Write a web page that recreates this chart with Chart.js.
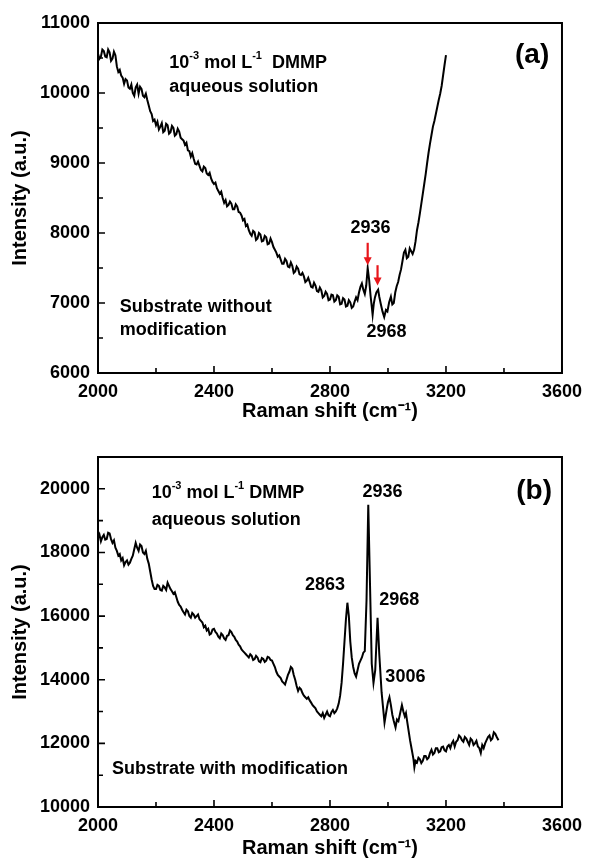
<!DOCTYPE html>
<html>
<head>
  <meta charset="utf-8">
  <title>Raman spectra of DMMP</title>
  <script src="https://cdn.jsdelivr.net/npm/chart.js"></script>
  <style>
    body { margin: 0; background: #fff; }
    .panel { position: absolute; left: 0; width: 590px; height: 430px; }
    #wrapA { top: 0; }
    #wrapB { top: 430px; }
  </style>
</head>
<body>
  <div class="panel" id="wrapA"><canvas id="chartA" width="590" height="430"></canvas></div>
  <div class="panel" id="wrapB"><canvas id="chartB" width="590" height="430"></canvas></div>

  <script>
    // axis ticks
    const xTicks = [2000, 2400, 2800, 3200, 3600];
    const yTicksA = [6000, 7000, 8000, 9000, 10000, 11000];
    const yTicksB = [10000, 12000, 14000, 16000, 18000, 20000];

    // (a) substrate without modification: [Raman shift, intensity]
    const specA = [
      [2000,10560],[2005,10490],[2010,10520],[2015,10620],[2020,10600],[2025,10520],[2030,10510],[2035,10620],
      [2040,10580],[2045,10460],[2050,10490],[2055,10590],[2060,10540],[2065,10380],[2070,10300],[2075,10330],
      [2080,10250],[2085,10220],[2090,10130],[2095,10200],[2100,10180],[2105,10080],[2110,10060],[2115,10120],
      [2120,10000],[2125,9960],[2130,10080],[2135,10120],[2140,9990],[2145,10090],[2150,10060],[2155,9960],
      [2160,9940],[2165,9990],[2170,9900],[2175,9820],[2180,9740],[2185,9700],[2190,9600],[2195,9620],
      [2200,9540],[2205,9590],[2210,9480],[2215,9520],[2220,9570],[2225,9440],[2230,9460],[2235,9560],
      [2240,9540],[2245,9420],[2250,9440],[2255,9530],[2260,9500],[2265,9390],[2270,9410],[2275,9490],
      [2280,9450],[2285,9360],[2290,9340],[2295,9320],[2300,9260],[2305,9290],[2310,9180],[2315,9170],
      [2320,9090],[2325,9140],[2330,9060],[2335,8990],[2340,8980],[2345,9020],[2350,8960],[2355,8900],
      [2360,8880],[2365,8950],[2370,8930],[2375,8850],[2380,8830],[2385,8860],[2390,8780],[2395,8730],
      [2400,8700],[2405,8720],[2410,8640],[2415,8600],[2420,8560],[2425,8590],[2430,8500],[2435,8430],
      [2440,8470],[2445,8380],[2450,8400],[2455,8450],[2460,8420],[2465,8340],[2470,8340],[2475,8410],
      [2480,8380],[2485,8300],[2490,8290],[2495,8250],[2500,8180],[2505,8200],[2510,8100],[2515,8120],
      [2520,8040],[2525,7990],[2530,7960],[2535,8030],[2540,8010],[2545,7900],[2550,7920],[2555,8000],
      [2560,7980],[2565,7880],[2570,7890],[2575,7960],[2580,7940],[2585,7840],[2590,7850],[2595,7920],
      [2600,7870],[2605,7800],[2610,7760],[2615,7720],[2620,7660],[2625,7680],[2630,7620],[2635,7560],
      [2640,7560],[2645,7630],[2650,7600],[2655,7520],[2660,7510],[2665,7580],[2670,7530],[2675,7430],
      [2680,7450],[2685,7520],[2690,7490],[2695,7410],[2700,7400],[2705,7430],[2710,7380],[2715,7300],
      [2720,7320],[2725,7360],[2730,7300],[2735,7230],[2740,7220],[2745,7290],[2750,7250],[2755,7170],
      [2760,7160],[2765,7220],[2770,7180],[2775,7080],[2780,7100],[2785,7160],[2790,7130],[2795,7040],
      [2800,7050],[2805,7120],[2810,7110],[2815,7020],[2820,7040],[2825,7110],[2830,7090],[2835,6980],
      [2840,6990],[2845,7070],[2850,7050],[2855,6950],[2860,6960],[2865,7040],[2870,7010],[2875,6930],
      [2880,6950],[2885,7020],[2890,7080],[2895,7040],[2900,7150],[2905,7230],[2910,7280],[2915,7190],
      [2920,7130],[2925,7250],[2930,7500],[2935,7330],[2940,7100],[2944,6950],[2947,6830],[2951,6990],
      [2955,7080],[2960,7150],[2966,7190],[2970,7090],[2975,6990],[2981,6880],[2987,6800],[2993,6900],
      [2998,6880],[3004,7010],[3010,7090],[3015,6980],[3020,7000],[3025,7150],[3030,7240],[3035,7300],
      [3040,7400],[3045,7480],[3050,7600],[3055,7720],[3060,7760],[3065,7640],[3070,7660],[3075,7780],
      [3080,7740],[3085,7700],[3090,7760],[3095,7880],[3100,8040],[3105,8150],[3110,8280],[3115,8420],
      [3120,8560],[3125,8700],[3130,8840],[3135,9000],[3140,9150],[3145,9280],[3150,9400],[3155,9520],
      [3160,9600],[3165,9700],[3170,9800],[3175,9900],[3180,9990],[3185,10100],[3190,10250],[3195,10400],
      [3200,10540]
    ];

    // (b) substrate with modification: [Raman shift, intensity]
    const specB = [
      [2000,18450],[2005,18560],[2010,18350],[2015,18480],[2020,18550],[2025,18400],[2030,18420],[2035,18620],
      [2040,18600],[2045,18420],[2050,18300],[2055,18380],[2060,18150],[2065,18050],[2070,17900],[2075,17950],
      [2080,17750],[2085,17820],[2090,17600],[2095,17700],[2100,17750],[2105,17620],[2110,17680],[2115,17800],
      [2120,17900],[2125,18100],[2130,18300],[2135,18150],[2140,18050],[2145,18250],[2150,18200],[2155,18000],
      [2160,17950],[2165,18050],[2170,17800],[2175,17650],[2180,17400],[2185,17150],[2190,16950],[2195,16850],
      [2200,16850],[2205,16980],[2210,16950],[2215,16820],[2220,16800],[2225,16950],[2230,16900],[2235,16820],
      [2240,17050],[2245,16950],[2250,16850],[2255,16780],[2260,16700],[2265,16750],[2270,16600],[2275,16450],
      [2280,16350],[2285,16300],[2290,16200],[2295,16120],[2300,16050],[2305,16200],[2310,16150],[2315,16000],
      [2320,15950],[2325,16100],[2330,16050],[2335,15950],[2340,16000],[2345,16050],[2350,15900],[2355,15850],
      [2360,15800],[2365,15650],[2370,15700],[2375,15550],[2380,15600],[2385,15420],[2390,15450],[2395,15580],
      [2400,15600],[2405,15500],[2410,15450],[2415,15350],[2420,15300],[2425,15450],[2430,15400],[2435,15300],
      [2440,15250],[2445,15380],[2450,15400],[2455,15550],[2460,15500],[2465,15400],[2470,15350],[2475,15250],
      [2480,15200],[2485,15100],[2490,15050],[2495,14950],[2500,14900],[2505,14850],[2510,14800],[2515,14750],
      [2520,14700],[2525,14800],[2530,14750],[2535,14620],[2540,14650],[2545,14750],[2550,14700],[2555,14580],
      [2560,14550],[2565,14680],[2570,14650],[2575,14560],[2580,14600],[2585,14720],[2590,14700],[2595,14620],
      [2600,14600],[2605,14500],[2610,14400],[2615,14250],[2620,14150],[2625,14100],[2630,14050],[2635,13950],
      [2640,13900],[2645,13850],[2650,14000],[2655,14150],[2660,14250],[2665,14400],[2670,14350],[2675,14150],
      [2680,14000],[2685,13800],[2690,13650],[2695,13750],[2700,13700],[2705,13580],[2710,13500],[2715,13450],
      [2720,13400],[2725,13450],[2730,13350],[2735,13280],[2740,13200],[2745,13150],[2750,13100],[2755,13000],
      [2760,12950],[2765,12900],[2770,12850],[2775,12950],[2780,12800],[2785,12900],[2790,13000],[2795,12880],
      [2800,12850],[2805,12980],[2810,13050],[2815,12950],[2820,13000],[2825,13100],[2830,13250],[2835,13500],
      [2840,13900],[2845,14500],[2850,15200],[2855,15900],[2860,16420],[2865,16000],[2870,15200],[2875,14700],
      [2880,14400],[2885,14200],[2890,14100],[2895,14300],[2900,14500],[2905,14600],[2910,14700],[2915,14850],
      [2920,14900],[2926,16500],[2932,19500],[2938,17000],[2944,14500],[2950,13900],[2956,14300],[2964,15950],
      [2970,14800],[2978,13600],[2988,12650],[2996,13100],[3000,13300],[3005,13450],[3010,13200],[3015,12900],
      [3020,12700],[3026,12500],[3031,12750],[3036,12700],[3042,12950],[3048,13200],[3053,13000],[3058,12850],
      [3062,12950],[3066,12700],[3071,12400],[3076,12100],[3080,11900],[3084,11700],[3088,11500],[3091,11250],
      [3095,11450],[3100,11400],[3105,11550],[3110,11500],[3115,11380],[3120,11450],[3125,11600],[3130,11600],
      [3135,11500],[3140,11550],[3145,11700],[3150,11800],[3155,11650],[3160,11700],[3165,11850],[3170,11850],
      [3175,11720],[3180,11750],[3185,11880],[3190,11900],[3195,11780],[3200,11750],[3205,11900],[3210,11950],
      [3215,11850],[3220,12000],[3225,12080],[3230,11900],[3235,12050],[3240,12100],[3245,12250],[3250,12200],
      [3255,12100],[3260,12050],[3265,12200],[3270,12150],[3275,12050],[3280,11950],[3285,12150],[3290,12100],
      [3295,11950],[3300,12000],[3305,12080],[3310,11900],[3315,11850],[3320,11700],[3325,11950],[3330,11850],
      [3335,12000],[3340,12100],[3345,12200],[3350,12250],[3355,12100],[3360,12150],[3365,12350],[3370,12300],
      [3375,12200],[3381,12100]
    ];

    const FONT = "'Liberation Sans', Arial, sans-serif";
    Chart.defaults.color = '#000';
    Chart.defaults.font.family = FONT;

    // draws a string made of normal and superscript parts, left aligned, vertically centred
    function drawRich(ctx, parts, x, y, size) {
      ctx.textBaseline = 'middle';
      ctx.textAlign = 'left';
      let cx = x;
      parts.forEach(p => {
        const s = p.sup ? Math.round(size * 0.62) : size;
        ctx.font = 'bold ' + s + 'px ' + FONT;
        ctx.fillText(p.t, cx, p.sup ? y - size * 0.38 : y);
        cx += ctx.measureText(p.t).width;
      });
    }

    function drawArrow(ctx, x, y0, y1) {
      ctx.strokeStyle = '#e8161b';
      ctx.fillStyle = '#e8161b';
      ctx.lineWidth = 2.2;
      ctx.beginPath();
      ctx.moveTo(x, y0);
      ctx.lineTo(x, y1 - 7);
      ctx.stroke();
      ctx.beginPath();
      ctx.moveTo(x - 4, y1 - 8);
      ctx.lineTo(x + 4, y1 - 8);
      ctx.lineTo(x, y1);
      ctx.closePath();
      ctx.fill();
    }

    // box, inward ticks and text notes
    const framePlugin = {
      id: 'frame',
      afterDraw(chart, args, opts) {
        const { ctx, chartArea: a, scales: { x, y } } = chart;
        ctx.save();
        ctx.strokeStyle = '#000';
        ctx.lineWidth = 2;
        ctx.strokeRect(a.left, a.top, a.right - a.left, a.bottom - a.top);
        ctx.lineWidth = 1.6;
        ctx.beginPath();
        opts.xMinor.forEach(v => {
          const px = x.getPixelForValue(v);
          const len = xTicks.includes(v) ? 7 : 5;
          ctx.moveTo(px, a.bottom);
          ctx.lineTo(px, a.bottom - len);
        });
        opts.yMinor.forEach(v => {
          const py = y.getPixelForValue(v);
          const len = opts.yMajor.includes(v) ? 7 : 5;
          ctx.moveTo(a.left, py);
          ctx.lineTo(a.left + len, py);
        });
        ctx.stroke();

        ctx.fillStyle = '#000';
        opts.notes.forEach(n => {
          const px = x.getPixelForValue(n.x);
          const py = y.getPixelForValue(n.y);
          if (n.center) {
            ctx.font = 'bold ' + n.size + 'px ' + FONT;
            ctx.textAlign = 'center';
            ctx.textBaseline = 'middle';
            ctx.fillText(n.parts[0].t, px, py);
          } else {
            drawRich(ctx, n.parts, px, py, n.size);
          }
        });
        (opts.arrows || []).forEach(ar => {
          drawArrow(ctx, x.getPixelForValue(ar.x), y.getPixelForValue(ar.from), y.getPixelForValue(ar.to));
        });
        ctx.restore();
      }
    };

    const concParts = [{ t: '10' }, { t: '-3', sup: true }, { t: ' mol L' }, { t: '-1', sup: true }];

    function makeChart(id, spec, yMin, yMax, yTicks, pad, titlePadBottom, plugOpts) {
      return new Chart(document.getElementById(id), {
        type: 'line',
        data: {
          datasets: [{
            data: spec.map(p => ({ x: p[0], y: p[1] })),
            borderColor: '#000',
            borderWidth: 2,
            pointRadius: 0,
            tension: 0
          }]
        },
        options: {
          responsive: false,
          animation: false,
          events: [],
          layout: { padding: pad },
          plugins: { legend: { display: false }, tooltip: { enabled: false }, frame: plugOpts },
          scales: {
            x: {
              type: 'linear',
              min: 2000,
              max: 3600,
              grid: { display: false, drawTicks: false },
              border: { display: false },
              afterBuildTicks: s => { s.ticks = xTicks.map(v => ({ value: v })); },
              afterFit: s => { s.height = pad.xh; },
              ticks: { padding: 8, maxRotation: 0, font: { size: 18, weight: 'bold' }, callback: v => String(v) },
              title: {
                display: true,
                text: 'Raman shift (cm\u207B\u00B9)',
                font: { size: 20, weight: 'bold' },
                padding: { top: 0, bottom: titlePadBottom }
              }
            },
            y: {
              type: 'linear',
              min: yMin,
              max: yMax,
              grid: { display: false, drawTicks: false },
              border: { display: false },
              afterBuildTicks: s => { s.ticks = yTicks.map(v => ({ value: v })); },
              afterFit: s => { s.width = 98; },
              ticks: { padding: 8, font: { size: 18, weight: 'bold' }, callback: v => String(v) },
              title: {
                display: true,
                text: 'Intensity (a.u.)',
                font: { size: 20, weight: 'bold' },
                padding: { top: 8, bottom: 0 }
              }
            }
          }
        },
        plugins: [framePlugin]
      });
    }

    makeChart('chartA', specA, 6000, 11000, yTicksA,
      { top: 23, right: 24, left: 0, bottom: 0, xh: 57 }, 7,
      {
        xMinor: [2000, 2200, 2400, 2600, 2800, 3000, 3200, 3400, 3600],
        yMinor: [6000, 6500, 7000, 7500, 8000, 8500, 9000, 9500, 10000, 10500, 11000],
        yMajor: yTicksA,
        notes: [
          { x: 2246, y: 10430, size: 18, parts: concParts.concat([{ t: '  DMMP' }]) },
          { x: 2246, y: 10086, size: 18, parts: [{ t: 'aqueous solution' }] },
          { x: 3497, y: 10540, size: 28, center: true, parts: [{ t: '(a)' }] },
          { x: 2940, y: 8070, size: 18, center: true, parts: [{ t: '2936' }] },
          { x: 2995, y: 6590, size: 18, center: true, parts: [{ t: '2968' }] },
          { x: 2075, y: 6943, size: 18, parts: [{ t: 'Substrate without' }] },
          { x: 2075, y: 6614, size: 18, parts: [{ t: 'modification' }] }
        ],
        arrows: [
          { x: 2930, from: 7860, to: 7540 },
          { x: 2964, from: 7540, to: 7250 }
        ]
      });

    makeChart('chartB', specB, 10000, 21000, yTicksB,
      { top: 27, right: 24, left: 0, bottom: 0, xh: 53 }, 0,
      {
        xMinor: [2000, 2200, 2400, 2600, 2800, 3000, 3200, 3400, 3600],
        yMinor: [10000, 11000, 12000, 13000, 14000, 15000, 16000, 17000, 18000, 19000, 20000],
        yMajor: yTicksB,
        notes: [
          { x: 2185, y: 19868, size: 18, parts: concParts.concat([{ t: ' DMMP' }]) },
          { x: 2185, y: 19019, size: 18, parts: [{ t: 'aqueous solution' }] },
          { x: 3504, y: 19931, size: 28, center: true, parts: [{ t: '(b)' }] },
          { x: 2981, y: 19899, size: 18, center: true, parts: [{ t: '2936' }] },
          { x: 2783, y: 16975, size: 18, center: true, parts: [{ t: '2863' }] },
          { x: 3039, y: 16503, size: 18, center: true, parts: [{ t: '2968' }] },
          { x: 3060, y: 14082, size: 18, center: true, parts: [{ t: '3006' }] },
          { x: 2048, y: 11189, size: 18, parts: [{ t: 'Substrate with modification' }] }
        ]
      });
  </script>
</body>
</html>
